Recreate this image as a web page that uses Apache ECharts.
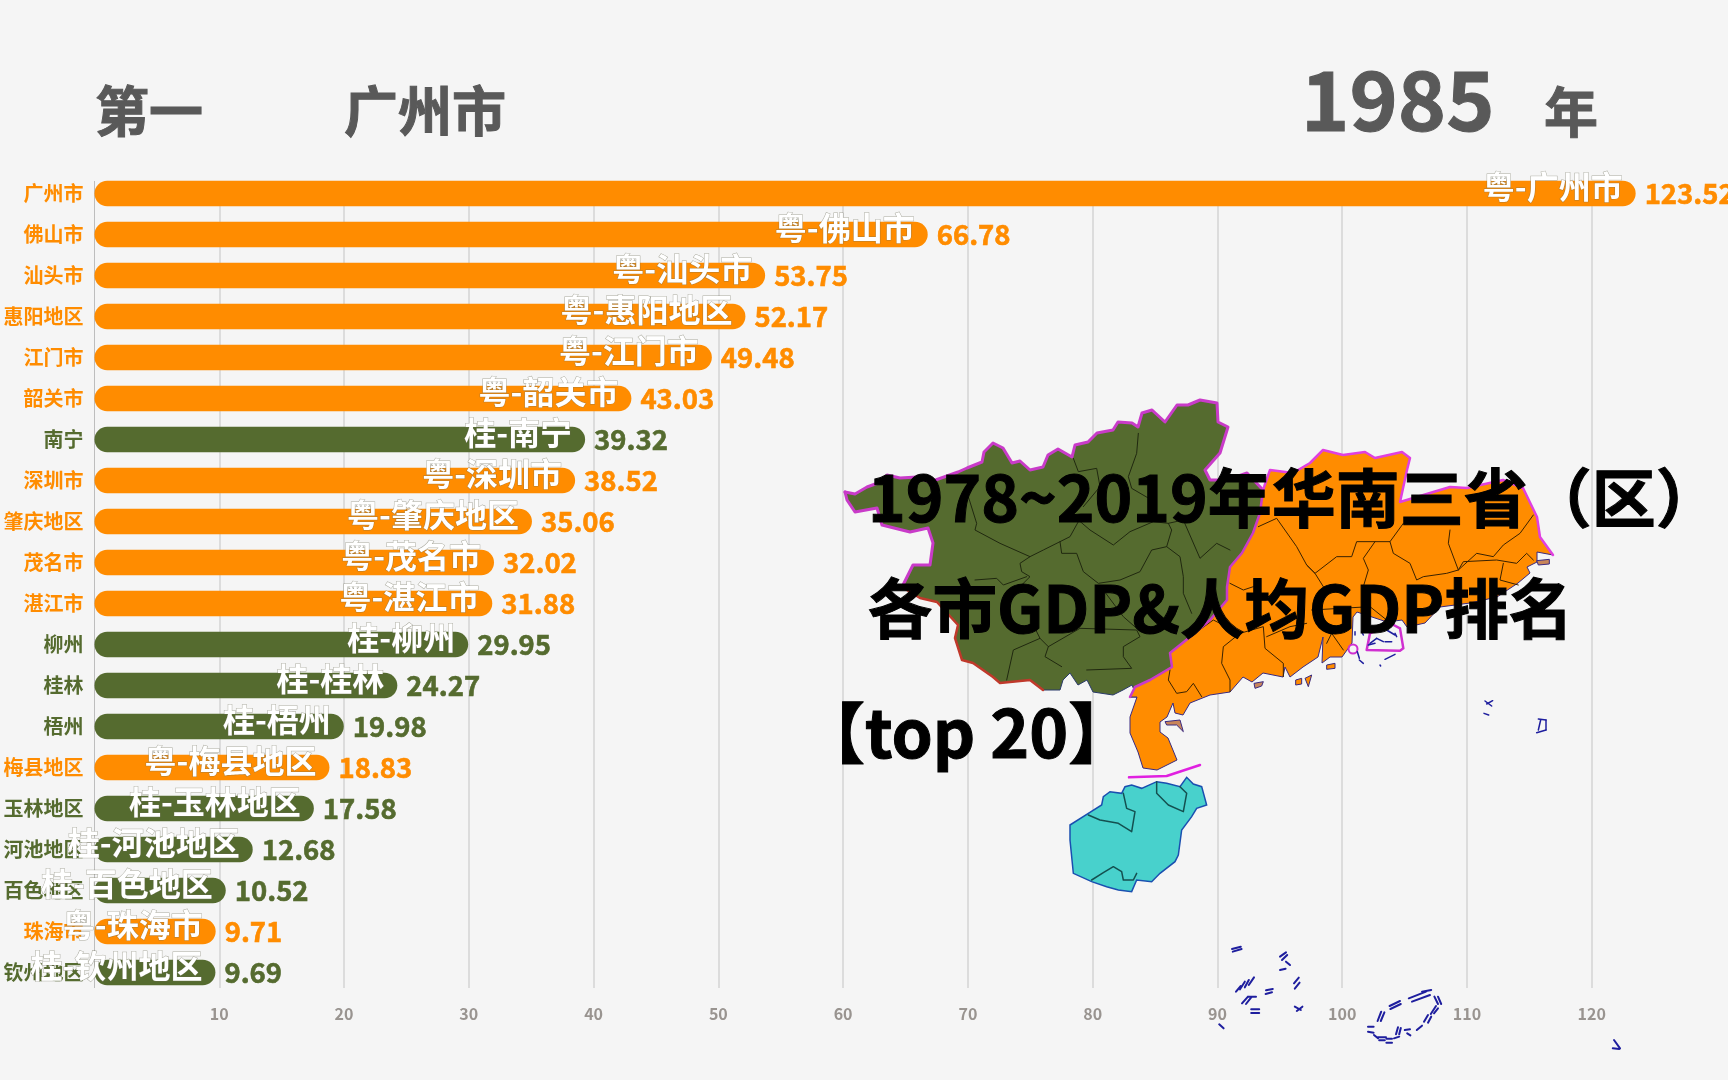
<!DOCTYPE html>
<html><head><meta charset="utf-8">
<style>html,body{margin:0;padding:0;background:#f5f5f5}#c{width:1728px;height:1080px}</style>
<script src="https://cdn.jsdelivr.net/npm/echarts@6/dist/echarts.min.js"></script>
</head><body><div id="c"></div>
<script>
// ---------- chart data ----------
const categories = ['广州市','佛山市','汕头市','惠阳地区','江门市','韶关市','南宁','深圳市','肇庆地区','茂名市','湛江市','柳州','桂林','梧州','梅县地区','玉林地区','河池地区','百色地区','珠海市','钦州地区'];
const provinces  = ['粤','粤','粤','粤','粤','粤','桂','粤','粤','粤','粤','桂','桂','桂','粤','桂','桂','桂','粤','桂'];
const values     = [123.52,66.78,53.75,52.17,49.48,43.03,39.32,38.52,35.06,32.02,31.88,29.95,24.27,19.98,18.83,17.58,12.68,10.52,9.71,9.69];
const provinceColors = {'粤':'#FF8C00','桂':'#556B2F'};
const rankText = '第一', leaderText = '广州市', yearText = '1985', yearUnit = '年';
const headline1 = '1978~2019年华南三省（区）', headline2 = '各市GDP&人均GDP排名', headline3 = '【top 20】';

// ---------- decorative map artwork (hand traced outline of the backdrop picture) ----------
const guangxiNorth = [[845,492],[855,494],[867,487],[878,483],[887,475],[900,478],[917,477],[930,482],[958,472],[967,468],[982,462],[984,452],[993,443],[1003,448],[1012,463],[1020,461],[1030,470],[1043,467],[1048,455],[1058,449],[1072,457],[1075,445],[1088,442],[1097,433],[1113,430],[1118,422],[1132,423],[1138,427],[1142,413],[1152,410],[1165,422],[1177,405],[1188,405],[1200,400],[1217,403],[1218,422],[1228,427],[1220,453],[1205,470],[1210,480],[1227,480],[1247,473],[1263,490]];
const sharedBorder = [[1263,490],[1260,513],[1253,533],[1242,553],[1230,567],[1227,587],[1227,600],[1210,620],[1190,637],[1170,653],[1172,667],[1150,680],[1135,687],[1130,697]];
const guangxiCoast = [[1137,697],[1132,685],[1123,690],[1113,695],[1093,692],[1087,680],[1078,685],[1070,673],[1063,680],[1060,690],[1043,690]];
const guangxiRed = [[1043,690],[1030,680],[1000,683],[993,677],[973,663],[962,660],[955,638],[958,625],[937,602],[920,598],[902,587]];
const guangxiWest = [[902,587],[913,565],[930,565],[933,543],[928,528],[910,532],[882,525],[877,508],[855,512],[847,500],[845,492]];
const guangdongNorth = [[1263,490],[1270,470],[1293,473],[1310,463],[1323,450],[1343,455],[1365,452],[1375,458],[1402,452],[1410,458],[1407,470],[1400,502],[1430,493],[1450,487],[1467,488],[1503,480],[1523,488],[1537,517],[1540,537],[1553,555]];
const guangdongCoast = [[1553,555],[1537,552],[1537,562],[1527,567],[1530,573],[1518,583],[1497,597],[1470,603],[1440,607],[1425,623],[1407,627],[1402,620],[1387,622],[1357,612],[1353,617],[1352,643],[1342,657],[1330,657],[1322,663],[1323,637],[1318,657],[1303,667],[1290,677],[1285,667],[1283,677],[1263,673],[1252,682],[1243,677],[1230,692],[1210,695],[1190,703],[1183,715],[1175,713],[1173,703],[1167,717],[1160,722],[1160,732],[1168,738],[1177,760],[1157,770],[1143,768],[1138,752],[1130,733],[1130,717],[1137,697]];
const hainanZ = [[60,435],[115,400],[155,375],[160,350],[180,335],[215,340],[225,320],[245,315],[275,325],[320,305],[350,310],[390,320],[410,292],[430,312],[455,320],[470,375],[440,385],[425,410],[395,450],[385,525],[375,545],[330,580],[305,605],[260,600],[245,635],[205,630],[170,620],[125,605],[70,580],[60,480]];
const hainanLines = [[[220,340],[230,385],[255,395],[245,455],[205,430],[150,420],[115,405]],[[320,305],[320,340],[355,375],[400,395],[410,340],[390,320]],[[125,600],[160,578],[190,560],[215,575],[220,600],[250,600],[260,580]]];
const straitLine = [[237,292],[350,288],[450,255]];
const guangxiLines = [[[415,320],[440,400],[435,420],[510,460],[600,500],[570,520],[575,545],[600,560],[575,585]],[[600,500],[640,480],[690,455],[720,440],[745,395]],[[690,455],[695,490],[740,490],[760,545],[805,580],[870,570],[930,545],[965,480],[1010,470],[1025,420],[1015,400]],[[745,390],[780,420],[850,465],[900,425],[970,395],[1015,400],[1060,390],[1110,505],[1160,460],[1200,480]],[[925,130],[920,190],[895,260],[905,295],[965,330]],[[730,205],[745,245],[800,235],[810,290],[760,350]],[[1010,470],[1050,500],[1060,560],[1060,610],[1085,670]],[[615,715],[630,745],[550,780],[530,870]],[[630,745],[655,770],[645,800],[695,830]],[[655,770],[750,715],[920,720],[930,740],[880,770],[880,800],[905,835],[770,840]],[[435,570],[500,565],[520,585],[590,560]],[[820,600],[880,680],[920,715]]];
const guangdongLines = [[[385,290],[440,265],[500,350],[530,405],[555,430],[620,380],[665,380],[680,335],[735,335],[780,335],[820,280]],[[530,405],[555,430],[580,470]],[[735,335],[700,385],[715,420],[700,470]],[[780,335],[790,370],[840,400],[860,450],[880,440],[950,430],[985,420]],[[960,300],[955,340],[985,420],[1040,370],[1090,380],[1120,345],[1170,310],[1210,255]],[[985,420],[1000,395],[1100,390],[1160,400],[1190,370],[1210,390]],[[1120,400],[1110,450],[1165,465]],[[300,460],[340,480],[370,470]],[[180,620],[250,570],[330,610],[280,650],[275,700],[300,750],[300,785]],[[120,720],[115,750],[140,790],[170,785],[190,760],[215,800]],[[330,610],[400,590],[405,655],[460,700],[460,740]],[[410,620],[480,590],[530,580]],[[590,640],[605,610],[640,660]],[[545,540],[720,530],[770,570]]];
const smallIslands = [[[590,705],[615,700],[615,715],[590,718]],[[497,750],[515,745],[515,762],[497,765]],[[525,745],[545,735],[535,770]],[[372,760],[400,755],[395,768],[375,775]],[[1220,392],[1258,388],[1258,402],[1225,405]],[[105,875],[150,870],[160,905],[140,885],[110,885]]];
const hkBox = [[140,150],[150,100],[215,72],[240,85],[250,145],[240,152],[140,150]];
const nearDashes = [[495,303,515,318],[500,312,518,302],[492,340,506,345],[655,357,678,360],[678,360,678,390],[650,398,678,390],[662,360,655,390],[195,178,225,163],[180,195,182,198],[112,155,118,175],[118,180,130,190],[160,95,178,90],[150,130,170,115],[170,115,190,125],[200,90,225,105],[195,125,215,125],[145,135,165,130],[225,100,230,110],[105,95,105,105],[125,95,130,105]];
const seaDashes = [[330,207,352,200],[332,215,354,207],[340,335,352,318],[350,328,362,305],[362,322,372,300],[372,315,385,292],[355,370,370,350],[365,372,378,352],[372,350,390,350],[378,388,398,388],[378,399,398,399],[415,331,432,327],[414,342,430,337],[450,230,465,217],[455,240,468,225],[465,245,475,255],[450,270,464,266],[485,310,497,293],[487,326,499,308],[487,380,502,390],[492,393,506,380],[298,433,309,445],[724,378,750,363],[726,387,752,372],[694,423,703,395],[702,423,711,397],[772,355,815,335],[780,365,825,345],[805,335,828,330],[836,350,845,372],[845,350,853,372],[827,402,840,378],[835,400,845,385],[810,425,820,405],[820,428,828,410],[792,450,805,437],[740,463,745,442],[748,463,752,444],[762,450,775,448],[768,460,776,466],[735,475,748,470],[670,440,684,440],[670,455,684,458],[685,465,695,475],[695,472,715,472],[698,481,712,481],[716,476,730,476],[716,488,730,488],[1285,480,1300,505],[1282,505,1298,507]];

const FONT = '"Noto Sans CJK SC","Noto Sans",sans-serif';
const BG = '#F5F5F5', MAGENTA = '#C93BC9', NAVY = '#1E1E9E';
const from = (ox, oy, sx, sy) => pts => pts.map(p => [ox + p[0] / sx, oy + p[1] / sy]);
const z5 = from(830, 390, 3, 3), z6 = from(1130, 430, 3, 3), z7 = from(1050, 680, 3, 3), z8 = from(1320, 600, 3, 3), z4 = from(1100, 880, 2.5, 3);

const poly = (points, fill, stroke, lw, z) => ({type:'polygon', z, silent:true, shape:{points}, style:{fill, stroke, lineWidth:lw}});
const line = (points, stroke, lw, z) => ({type:'polyline', z, silent:true, shape:{points}, style:{stroke, lineWidth:lw, fill:null, lineJoin:'round', lineCap:'round'}});
const txt = (text, x, y, size, fill, sw) => ({type:'text', z:100, silent:true, style:{text, x, y, fill, stroke:fill, lineWidth:sw, font:`bold ${size}px ${FONT}`, textAlign:'left', textVerticalAlign:'middle'}});

const art = [];
art.push({type:'rect', z:1, silent:true, shape:{x:90,y:170,width:1640,height:11}, style:{fill:BG}});
art.push({type:'rect', z:1, silent:true, shape:{x:90,y:988,width:1640,height:7}, style:{fill:BG}});
art.push(poly([...guangxiNorth, ...sharedBorder, ...guangxiCoast, ...guangxiRed, ...guangxiWest], '#556B2F', '#2A3A6A', 1, 10));
art.push(poly([...guangdongNorth, ...guangdongCoast, ...sharedBorder.slice().reverse()], '#FF8C00', '#3A2A80', 1, 10));
art.push(poly(z7(hainanZ), '#48D1CC', '#1A4FB0', 1.5, 10));
smallIslands.forEach((s,i) => art.push(poly(z6(s), i < 3 ? '#FF8C00' : '#C8855A', '#3A2A80', 1, 10)));
guangxiLines.forEach(l => art.push(line(z5(l), '#20280F', 1, 11)));
guangdongLines.forEach(l => art.push(line(z6(l), '#3A2200', 1, 11)));
hainanLines.forEach(l => art.push(line(z7(l), '#145050', 1.5, 11)));
art.push(line(guangxiNorth, MAGENTA, 3, 12));
art.push(line(guangxiWest, MAGENTA, 3, 12));
art.push(line(guangxiRed, '#C0392B', 2.5, 12));
art.push(line(sharedBorder, MAGENTA, 2.5, 12));
art.push(line(guangdongNorth, '#E040E0', 2.5, 12));
art.push(line(z7(straitLine), '#E020E0', 2.5, 12));
art.push(line(z8(hkBox), '#D030D0', 2.5, 12));
art.push({type:'circle', z:12, silent:true, shape:{cx:1353,cy:649,r:4.5}, style:{fill:null, stroke:'#D030D0', lineWidth:2}});
nearDashes.forEach(d => art.push(line(z8([[d[0],d[1]],[d[2],d[3]]]), NAVY, 1.5, 12)));
seaDashes.forEach(d => art.push(line(z4([[d[0],d[1]],[d[2],d[3]]]), NAVY, 2, 12)));
const G = '#595959';
art.push(txt(rankText, 95, 111, 54, G, 1));
art.push(txt(leaderText, 344, 111, 54, G, 1));
art.push(txt(yearText, 1301, 100, 82, G, 1));
art.push(txt(yearUnit, 1544, 112, 54, G, 1));
art.push(txt(headline1, 868, 498, 64, '#000', 1));
art.push(txt(headline2, 868, 608, 64.5, '#000', 1));
art.push(txt(headline3, 799, 733, 66, '#000', 1));

const barData = values.map((v,i) => { const c = provinceColors[provinces[i]]; return {value:v, itemStyle:{color:c}, label:{color:c, textBorderColor:c, textBorderWidth:0.6}}; });
const tagData = values.map((v,i) => ({value:v, label:{formatter: provinces[i] + '-' + categories[i]}}));

const chart = echarts.init(document.getElementById('c'), null, {renderer:'canvas'});
chart.setOption({
  animation:false,
  backgroundColor:BG,
  grid:{left:94.5, top:173, height:820, width:1622, containLabel:false},
  xAxis:{type:'value', min:0, max:130, interval:10, position:'bottom',
    axisLine:{show:false}, axisTick:{show:false},
    splitLine:{show:true, showMinLine:false, showMaxLine:false, lineStyle:{color:'#DCDCDC', width:2}},
    axisLabel:{show:true, showMinLabel:false, showMaxLabel:false, margin:13, color:'#999490', fontWeight:'bold', fontSize:16, fontFamily:FONT}},
  yAxis:{type:'category', inverse:true, data:categories,
    axisTick:{show:false}, axisLine:{show:true, lineStyle:{color:'#BDBDBD', width:1}},
    axisLabel:{margin:11, fontSize:20, fontWeight:'bold', fontFamily:FONT, interval:0,
      color:(v,i)=>provinceColors[provinces[i]]}},
  series:[
    {type:'bar', z:3, barWidth:25.5, barGap:'-100%', itemStyle:{borderRadius:13}, data:barData,
     label:{show:true, position:'right', distance:9, fontSize:27.5, fontWeight:'bold', fontFamily:FONT, formatter:p=>p.value.toFixed(2)}},
    {type:'bar', z:4, barWidth:25.5, barGap:'-100%', itemStyle:{color:'rgba(0,0,0,0)'}, data:tagData,
     label:{show:true, position:'insideRight', distance:13, offset:[0,-7], fontSize:32, fontWeight:'bold', fontFamily:FONT,
       color:'#fff', textBorderColor:'rgba(110,110,90,.55)', textBorderWidth:1}}
  ],
  graphic:{elements:art}
});
</script></body></html>
